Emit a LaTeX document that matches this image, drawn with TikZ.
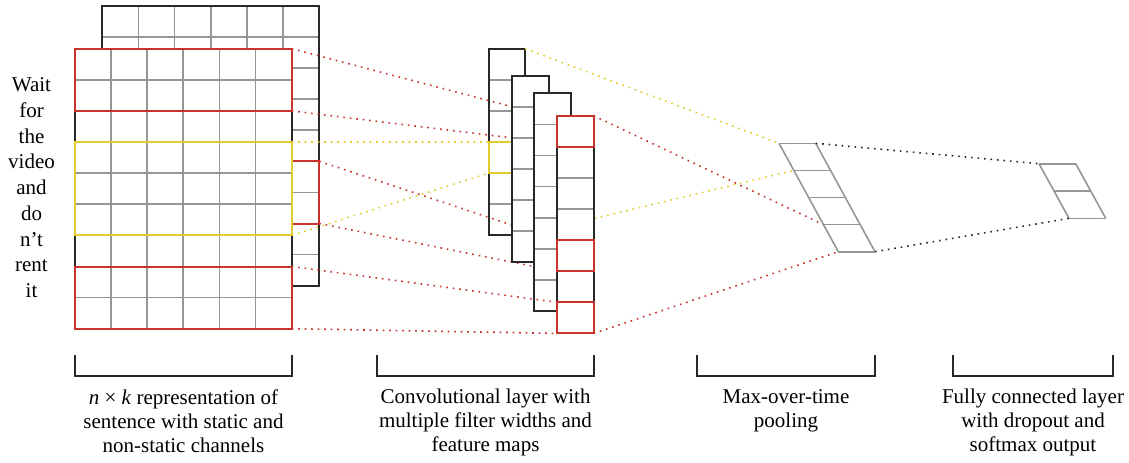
\documentclass[tikz,border=0pt]{standalone}
\usepackage{fontspec}
\setmainfont{Liberation Serif}
\usepackage{xcolor}
\usepackage{tikz}

\definecolor{boxred}{RGB}{200,52,44}
\definecolor{boxyellow}{RGB}{226,204,44}
\definecolor{cellgray}{RGB}{150,150,150}
\definecolor{framegray}{RGB}{40,40,40}

\begin{document}
\begin{tikzpicture}[x=0.5pt,y=-0.5pt,
    gridline/.style={cellgray,line width=0.8pt},
    frame/.style={framegray,line width=0.95pt},
    redbox/.style={boxred,line width=1pt},
    yellowbox/.style={boxyellow,line width=1pt},
    dots/.style={line width=0.8pt,dash pattern=on 0.8pt off 2.45pt},
    reddots/.style={dots,boxred},
    yellowdots/.style={dots,boxyellow},
    blackdots/.style={dots,black!85},
    bracket/.style={framegray,line width=0.6pt},
    caption/.style={align=center,anchor=north,inner sep=0pt,font=\fontsize{10.5}{12}\selectfont},
    word/.style={anchor=base,inner sep=0pt,font=\fontsize{10.5}{12}\selectfont}]
    \useasboundingbox (0,0) rectangle (1129,462);

    % static channel (behind)
    \fill[white] (102.3,5.7) rectangle (319.3,285.7);
    \foreach \i in {1,...,5} \draw[gridline] ({102.3+\i*36.17},5.7) -- ++(0,280);
    \foreach \r in {1,...,8} \draw[gridline] (102.3,{5.7+\r*31.11}) -- ++(217,0);
    \draw[frame] (102.3,5.7) rectangle (319.3,285.7);
    \draw[redbox] (102.3,161.25) rectangle (319.3,223.5);
    \foreach \r in {0,...,9} \coordinate (back-\r) at (319.3,{5.7+\r*31.11});

    % non-static channel (front)
    \fill[white] (74.7,48.7) rectangle (291.7,328.7);
    \foreach \i in {1,...,5} \draw[gridline] ({74.7+\i*36.17},48.7) -- ++(0,280);
    \foreach \r in {1,...,8} \draw[gridline] (74.7,{48.7+\r*31.11}) -- ++(217,0);
    \draw[frame] (74.7,48.7) rectangle (291.7,328.7);
    \draw[redbox] (74.7,48.7) rectangle (291.7,110.9);
    \draw[yellowbox] (74.7,142) rectangle (291.7,235.3);
    \draw[redbox] (74.7,266.5) rectangle (291.7,328.7);
    \foreach \r in {0,...,9} \coordinate (front-\r) at (291.7,{48.7+\r*31.11});

    % the sentence
    \foreach \w [count=\i from 0] in {Wait,for,the,video,and,do,n't,rent,it}
        \node[word] (word-\i) at (31.5,{91.5+\i*25.75}) {\w};

    % feature map 1
    \fill[white] (488.7,48.7) rectangle ++(36.3,186.6);
    \foreach \c in {1,...,5} \draw[gridline] (488.7,{48.7+\c*31.1}) -- ++(36.3,0);
    \draw[frame] (488.7,48.7) rectangle ++(36.3,186.6);
    \draw[yellowbox] (488.7,142) rectangle ++(36.3,31.1);
    \foreach \c in {0,...,6} {
        \coordinate (m1L-\c) at (488.7,{48.7+\c*31.1});
        \coordinate (m1R-\c) at (525,{48.7+\c*31.1});
    }

    % feature maps 2 to 4, their corners first
    \foreach \c in {0,...,6} \coordinate (m2L-\c) at (512.3,{75.7+\c*31.1});
    \foreach \c in {0,...,7} {
        \coordinate (m4L-\c) at (557.3,{115.7+\c*31.1});
        \coordinate (m4R-\c) at (593.6,{115.7+\c*31.1});
    }

    % pooling corners
    \foreach \k in {0,...,4} {
        \coordinate (pool-\k) at ({779+\k*14.825},{143.3+\k*27.1});
        \coordinate (poolR-\k) at ({815.7+\k*14.825},{143.3+\k*27.1});
    }

    \draw[reddots] (front-0) -- (m2L-1);
    \draw[reddots] (front-2) -- (m2L-2);
    \draw[yellowdots] (front-3) -- (m1L-3);
    \draw[yellowdots] (front-6) -- (m1L-4);
    \draw[reddots] (back-5) -- (m4L-4);
    \draw[reddots] (back-7) -- (m4L-5);
    \draw[yellowdots] (m1R-0) -- (pool-0);
    \draw[yellowdots] (m1R-6) -- (pool-1);

    % feature map 2
    \fill[white] (512.3,75.7) rectangle ++(36.3,186.6);
    \foreach \c in {1,...,5} \draw[gridline] (512.3,{75.7+\c*31.1}) -- ++(36.3,0);
    \draw[frame] (512.3,75.7) rectangle ++(36.3,186.6);

    % feature map 3
    \fill[white] (534.3,93.3) rectangle ++(36.3,217.7);
    \foreach \c in {1,...,6} \draw[gridline] (534.3,{93.3+\c*31.1}) -- ++(36.3,0);
    \draw[frame] (534.3,93.3) rectangle ++(36.3,217.7);

    \draw[reddots] (front-7) -- (m4L-6);
    \draw[reddots] (front-9) -- (m4L-7);

    % feature map 4
    \fill[white] (557.3,115.7) rectangle ++(36.3,217.7);
    \foreach \c in {1,...,6} \draw[gridline] (557.3,{115.7+\c*31.1}) -- ++(36.3,0);
    \draw[frame] (557.3,115.7) rectangle ++(36.3,217.7);
    \draw[redbox] (m4L-0) rectangle (m4R-1);
    \draw[redbox] (m4L-4) rectangle (m4R-5);
    \draw[redbox] (m4L-6) rectangle (m4R-7);

    \draw[reddots] (m4R-0) -- (pool-3);
    \draw[reddots] (m4R-7) -- (pool-4);

    % max pooling
    \foreach \k in {0,...,4} \draw[gridline] (pool-\k) -- (poolR-\k);
    \draw[gridline] (pool-0) -- (pool-4) (poolR-0) -- (poolR-4);

    % output layer
    \foreach \k in {0,...,2} {
        \coordinate (out-\k) at ({1039+\k*15},{163.7+\k*27.3});
        \coordinate (outR-\k) at ({1075.7+\k*15},{163.7+\k*27.3});
        \draw[gridline] (out-\k) -- (outR-\k);
    }
    \draw[gridline] (out-0) -- (out-2) (outR-0) -- (outR-2);

    \draw[blackdots] (poolR-0) -- (out-0);
    \draw[blackdots] (poolR-4) -- (out-2);

    % brackets and captions
    \draw[bracket] (75,355) -- (75,376) -- (292,376) -- (292,355);
    \draw[bracket] (377,355) -- (377,376) -- (594,376) -- (594,355);
    \draw[bracket] (697,355) -- (697,376) -- (875,376) -- (875,355);
    \draw[bracket] (953,355) -- (953,376) -- (1113,376) -- (1113,355);
    \node[caption] (cap-input) at (183.5,389) {\textit{n} × \textit{k} representation of\\sentence with static and\\non-static channels};
    \node[caption] (cap-conv) at (485.5,389) {Convolutional layer with\\multiple filter widths and\\feature maps};
    \node[caption] (cap-pool) at (786,389) {Max-over-time\\pooling};
    \node[caption] (cap-out) at (1033,389) {Fully connected layer\\with dropout and\\softmax output};
\end{tikzpicture}
\end{document}
